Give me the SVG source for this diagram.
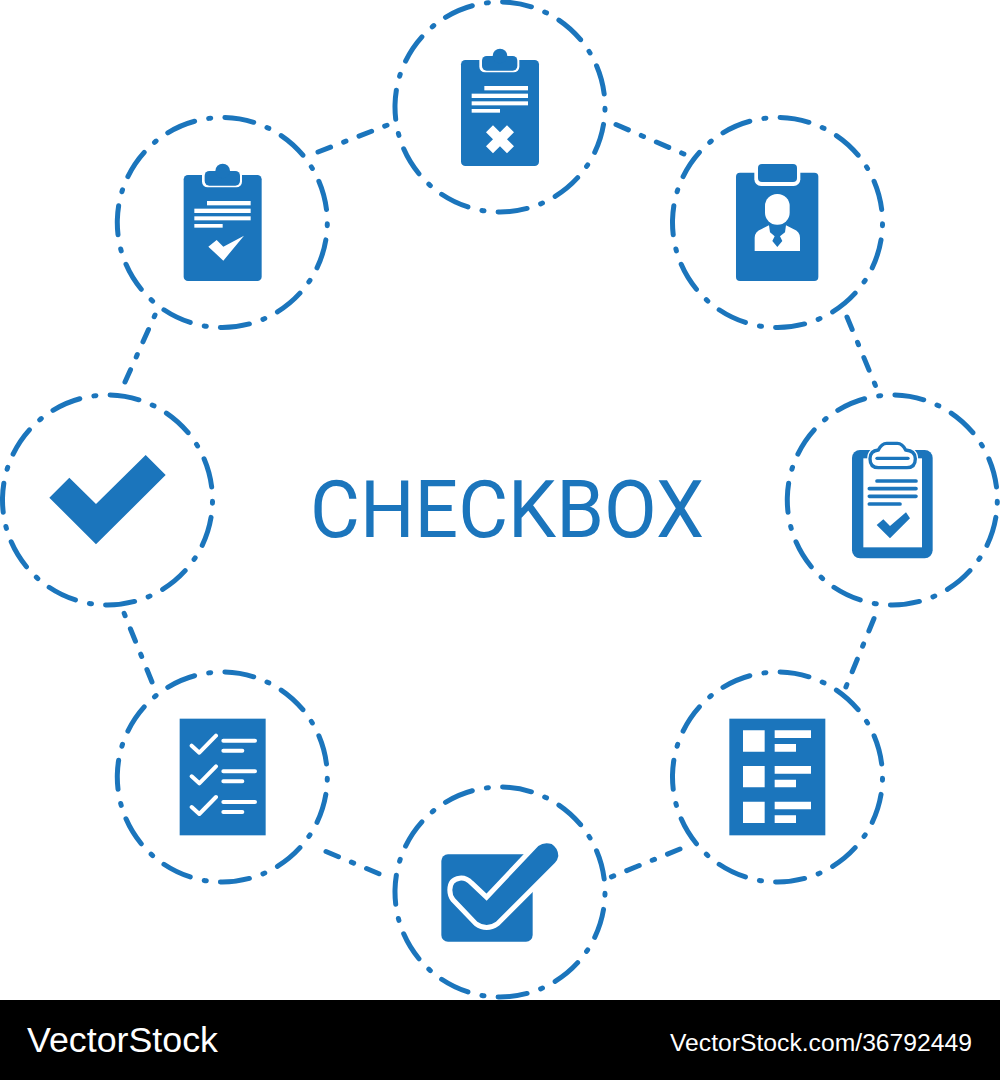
<svg xmlns="http://www.w3.org/2000/svg" xmlns:xlink="http://www.w3.org/1999/xlink" width="1000" height="1080" viewBox="0 0 1000 1080">
<style>
.ring{fill:none;stroke:#1b75bc;stroke-width:5;stroke-linecap:round;stroke-dasharray:16 7.8 1.1 7.83}
.link{fill:none;stroke:#1b75bc;stroke-width:5;stroke-linecap:round;stroke-dasharray:13.5 14 2.5 14}
.b{fill:#1b75bc}
.w{fill:#fff}
.sb{fill:none;stroke:#1b75bc;stroke-linecap:round}
.sw{fill:none;stroke:#fff;stroke-linecap:round}
.title{font-family:Roboto,"Liberation Sans",sans-serif;font-size:79px;fill:#1b75bc}
.mark{font-family:"Liberation Sans",Arial,sans-serif;fill:#fff}
</style>
<defs>
<g id="board">
<rect class="b" x="213" y="180" width="234" height="318" rx="13"/>
<rect class="w" x="268" y="160" width="120" height="57" rx="17"/>
<rect class="b" x="276" y="168" width="106" height="44" rx="14"/>
<circle class="b" cx="330" cy="168" r="22"/>
<rect class="w" x="283" y="258" width="131" height="13"/>
<rect class="w" x="245" y="281" width="169" height="13"/>
<rect class="w" x="245" y="304" width="169" height="12"/>
<rect class="w" x="245" y="327" width="85" height="11"/>
</g>
</defs>
<rect width="1000" height="1080" fill="#fff"/>
<g id="connectors">
<path class="link" d="M616,124.5L684,154"/>
<path class="link" d="M847,317L876.5,388"/>
<path class="link" d="M874,618.5L845.5,688"/>
<path class="link" d="M680,849L611,877"/>
<path class="link" d="M326,851.5L382,875"/>
<path class="link" d="M152,682L124,613"/>
<path class="link" d="M125,382L155,315"/>
<path class="link" d="M318,152L389,124.5"/>
</g>
<g id="node-top">
<circle class="ring" pathLength="360" cx="500" cy="107" r="105" transform="rotate(-88.6 500 107)"/>
<g transform="translate(390,0) scale(.33333)">
<use xlink:href="#board" href="#board"/>
<path class="w" d="M309,376L330,397L351,376L372,397L351,418L372,439L351,460L330,439L309,460L288,439L309,418L288,397Z"/>
</g>
</g>
<g id="node-top-right">
<circle class="ring" pathLength="360" cx="777.5" cy="222.5" r="105" transform="rotate(-88.6 777.5 222.5)"/>
<g transform="translate(670,115) scale(.33333)">
<rect class="b" x="198" y="173" width="247" height="325" rx="12"/>
<rect class="w" x="253" y="150" width="138" height="63" rx="20"/>
<rect class="b" x="264" y="147" width="117" height="54" rx="12"/>
<rect class="w" x="285" y="237" width="74" height="92" rx="36"/>
<path class="w" d="M254,408V368Q254,350 275,342L297,331L300,352L314,364L307,378L322,396L337,378L330,364L345,352L348,331L370,342Q390,350 390,368V408Z"/>
</g>
</g>
<g id="node-right">
<circle class="ring" pathLength="360" cx="892.3" cy="500" r="105" transform="rotate(-88.6 892.3 500)"/>
<g transform="translate(780,390) scale(.33333)">
<rect class="b" x="216" y="180" width="242" height="325" rx="24"/>
<rect class="w" x="250" y="205" width="176" height="267"/>
<path class="sw" style="stroke-width:17" d="M270,206Q270,182 295,180Q305,160 320,160H352Q367,160 377,180Q406,182 406,206Q406,233 381,233H295Q270,233 270,206Z"/>
<path class="w" style="stroke:#1b75bc;stroke-width:10" d="M270,206Q270,182 295,180Q305,160 320,160H352Q367,160 377,180Q406,182 406,206Q406,233 381,233H295Q270,233 270,206Z"/>
<path class="sb" style="stroke-width:10" d="M291,205H384"/>
<path class="sb" style="stroke-width:11" d="M291,273H408M268,296H408M268,319H408M268,342H360"/>
<path class="b" d="M290,405L310,388L330,408L378,367L390,385L330,445Z"/>
</g>
</g>
<g id="node-bottom-right">
<circle class="ring" pathLength="360" cx="777.5" cy="777" r="105" transform="rotate(-88.6 777.5 777)"/>
<g transform="translate(670,670) scale(.33333)">
<rect class="b" x="178" y="146" width="288" height="350"/>
<path class="w" d="M219,181h65v64h-65zM219,288h65v64h-65zM219,395h65v64h-65zM314,181h109v23h-109zM314,288h109v23h-109zM314,395h109v23h-109zM314,222h64v23h-64zM314,329h64v23h-64zM314,436h64v23h-64z"/>
</g>
</g>
<g id="node-bottom">
<circle class="ring" pathLength="360" cx="500" cy="892" r="105" transform="rotate(-88.6 500 892)"/>
<g transform="translate(390,780) scale(.33333)">
<rect class="b" x="154" y="223" width="274" height="262" rx="20"/>
<path style="fill:#fff;stroke:#fff;stroke-width:30;stroke-linejoin:round" d="M187,330Q187,305 210,302Q225,300 240,315L290,362L445,198Q462,185 485,192Q505,205 505,228Q503,240 495,248L318,425Q290,445 262,425L195,355Q187,345 187,330Z"/>
<path class="b" d="M187,330Q187,305 210,302Q225,300 240,315L290,362L445,198Q462,185 485,192Q505,205 505,228Q503,240 495,248L318,425Q290,445 262,425L195,355Q187,345 187,330Z"/>
</g>
</g>
<g id="node-bottom-left">
<circle class="ring" pathLength="360" cx="222.3" cy="777" r="105" transform="rotate(-88.6 222.3 777)"/>
<g transform="translate(110,670) scale(.33333)">
<rect class="b" x="209" y="146" width="258" height="350"/>
<path class="sw" style="stroke-width:12;stroke-linejoin:round" d="M245,227L268,248L318,197M245,319L268,340L318,289M245,411L268,432L318,381"/>
<path class="sw" style="stroke-width:12" d="M340,212H435M340,242H397M340,304H435M340,334H397M340,396H435M340,426H397"/>
</g>
</g>
<g id="node-left">
<circle class="ring" pathLength="360" cx="107.5" cy="500" r="105" transform="rotate(-88.6 107.5 500)"/>
<g transform="translate(30,440) scale(.33333)">
<path class="b" d="M58,173L118,113L198,192L347,45L407,105L198,313Z"/>
</g>
</g>
<g id="node-top-left">
<circle class="ring" pathLength="360" cx="222.3" cy="222.5" r="105" transform="rotate(-88.6 222.3 222.5)"/>
<g transform="translate(110,115) scale(.33333)">
<use xlink:href="#board" href="#board" x="8"/>
<path class="w" d="M295,395L320,375L340,395L402,362L340,437Z"/>
</g>
</g>
<text class="title" x="310" y="536.5" textLength="394" lengthAdjust="spacingAndGlyphs">CHECKBOX</text>
<rect y="1000" width="1000" height="80" fill="#000"/>
<text class="mark" x="27" y="1052" font-size="35.4" textLength="191" lengthAdjust="spacingAndGlyphs">VectorStock</text>
<text class="mark" x="670" y="1051" font-size="24.6" textLength="302" lengthAdjust="spacingAndGlyphs">VectorStock.com/36792449</text>
</svg>
